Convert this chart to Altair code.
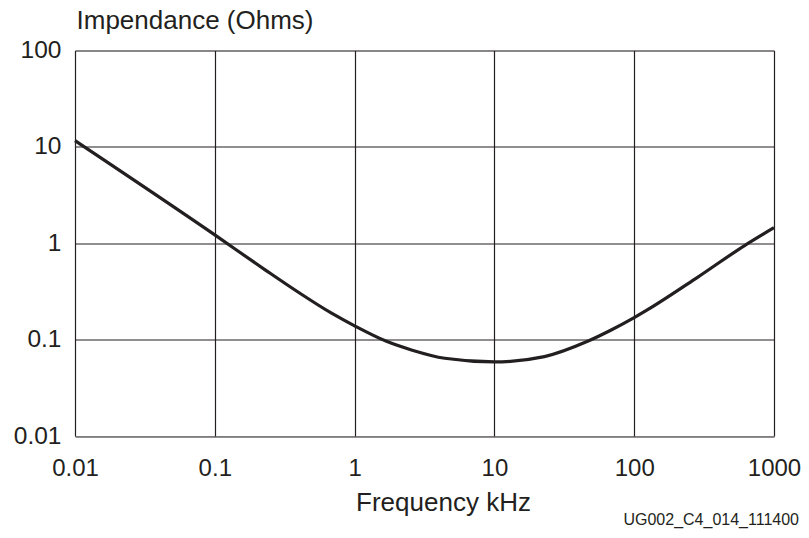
import altair as alt
import pandas as pd

# Data
freq_khz = [0.01, 0.1, 0.229, 0.396, 0.684, 1.0, 1.69, 2.55, 4.41, 10, 22.8, 46.4, 67.9, 100, 124, 282, 616, 1000]
impedance_ohms = [11.6, 1.22, 0.53, 0.31, 0.188, 0.139, 0.096, 0.0782, 0.0641, 0.0587, 0.0667, 0.096, 0.125, 0.169, 0.203, 0.44, 0.946, 1.45]

x_ticks = [0.01, 0.1, 1, 10, 100, 1000]
y_ticks = [0.01, 0.1, 1, 10, 100]

df = pd.DataFrame({"freq": freq_khz, "imp": impedance_ohms})

INK = "#231f20"
FONT = "Liberation Sans"

chart = alt.Chart(df).mark_line(
    color=INK, strokeWidth=3.2, interpolate="monotone"
).encode(
    x=alt.X(
        "freq:Q",
        scale=alt.Scale(type="log", domain=[0.01, 1000], nice=False),
        axis=alt.Axis(
            values=x_ticks, format="~g", title="Frequency kHz",
            grid=True, ticks=False, domain=False, labelFlush=False,
            labelFont=FONT, labelFontSize=24, labelColor=INK, labelPadding=20,
            labelFontWeight="normal",
            titleFont=FONT, titleFontSize=26, titleColor=INK, titleFontWeight="normal",
            titleX=368, titleY=74, titleAlign="center", titleBaseline="alphabetic",
            gridColor=INK, gridWidth=1.2, gridOpacity=1,
        ),
    ),
    y=alt.Y(
        "imp:Q",
        scale=alt.Scale(type="log", domain=[0.01, 100], nice=False),
        axis=alt.Axis(
            values=y_ticks, format="~g", title="Impendance (Ohms)",
            grid=True, ticks=False, domain=False, labelFlush=False,
            labelFont=FONT, labelFontSize=24.5, labelColor=INK, labelPadding=14,
            labelFontWeight="normal",
            titleFont=FONT, titleFontSize=26, titleColor=INK, titleFontWeight="normal",
            titleAngle=0, titleX=1, titleY=-22, titleAlign="left", titleBaseline="alphabetic",
            gridColor=INK, gridWidth=1.2, gridOpacity=1,
        ),
    ),
).properties(
    width=699,
    height=385.5,
    autosize=alt.AutoSizeParams(type="none"),
    padding={"left": 67, "top": 42.5, "right": 27, "bottom": 94},
    title=alt.TitleParams(
        "UG002_C4_014_111400", orient="bottom", anchor="end", frame="group",
        font=FONT, fontSize=16,
        fontWeight="normal", color=INK, offset=-3, dx=25,
    ),
).configure_view(
    stroke=INK, strokeWidth=1.5
).configure(background="white")

chart.save("out.html", embed_options={"renderer": "svg", "actions": False})
